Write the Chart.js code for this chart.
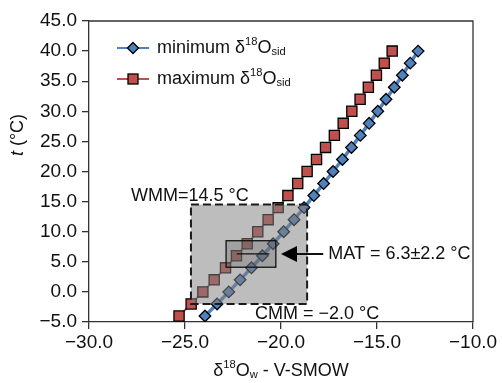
<!DOCTYPE html>
<html>
<head>
<meta charset="utf-8">
<script src="https://cdn.jsdelivr.net/npm/chart.js@4/dist/chart.umd.min.js"></script>
<style>
  html, body { margin: 0; padding: 0; background: #fff; }
</style>
</head>
<body>
<canvas id="chart" width="502" height="383"></canvas>
<script>
const FONT = '"Liberation Sans", Arial, sans-serif';

// temperature steps (°C)
const temps = [-4, -2, 0, 2, 4, 6, 8, 10, 12, 14, 16, 18, 20, 22, 24, 26, 28, 30, 32, 34, 36, 38, 40];
// δ18Ow for each temperature
const minSid = [-23.96, -23.33, -22.72, -22.13, -21.54, -20.97, -20.41, -19.86, -19.32, -18.80, -18.29, -17.78,
  -17.29, -16.80, -16.33, -15.87, -15.41, -14.96, -14.53, -14.10, -13.68, -13.27, -12.86];
const maxSid = [-25.31, -24.68, -24.07, -23.48, -22.89, -22.32, -21.76, -21.21, -20.67, -20.15, -19.64, -19.13,
  -18.64, -18.15, -17.68, -17.22, -16.76, -16.31, -15.88, -15.45, -15.03, -14.62, -14.21];

const seriesNames = ["minimum", "maximum"];
const xTicks = [-30, -25, -20, -15, -10];
const yTicks = [-5, 0, 5, 10, 15, 20, 25, 30, 35, 40, 45];

// annotation values
const wmm = 14.5, cmm = -2.0, mat = 6.3, matErr = 2.2;
const rangeBoxX = [-24.69, -18.64];
const matBoxX = [-22.86, -20.27];
const matLineX = [-22.3, -20.6];
const arrowX = [-17.8, -20.0];

const BLUE = "#4f81bd", RED = "#c0504d";

const toPts = (xs) => xs.map((v, i) => ({ x: v, y: temps[i] }));
const fmt = (v) => (v < 0 ? "\u2212" : "") + Math.abs(v).toFixed(1);

// draw text pieces with super/subscripts, returns width
function richText(ctx, parts, x, y, size, measureOnly) {
  let cx = x;
  parts.forEach((p) => {
    const s = p.sup || p.sub ? size * 0.62 : size;
    ctx.font = (p.italic ? "italic " : "") + s + "px " + FONT;
    const dy = p.sup ? -size * 0.36 : p.sub ? size * 0.22 : 0;
    if (!measureOnly) ctx.fillText(p.t, cx, y + dy);
    cx += ctx.measureText(p.t).width;
  });
  return cx - x;
}

function diamond(ctx, x, y, r) {
  ctx.beginPath();
  ctx.moveTo(x, y - r); ctx.lineTo(x + r, y); ctx.lineTo(x, y + r); ctx.lineTo(x - r, y);
  ctx.closePath();
}

const decorations = {
  id: "decorations",
  afterDatasetsDraw(chart) {
    const { ctx, scales: { x, y } } = chart;
    ctx.save();
    // seasonal range box (WMM - CMM)
    let x0 = x.getPixelForValue(rangeBoxX[0]), x1 = x.getPixelForValue(rangeBoxX[1]);
    let y0 = y.getPixelForValue(wmm), y1 = y.getPixelForValue(cmm);
    ctx.fillStyle = "rgba(128,128,128,0.52)";
    ctx.fillRect(x0, y0, x1 - x0, y1 - y0);
    ctx.setLineDash([8, 4]);
    ctx.lineWidth = 2;
    ctx.strokeStyle = "#1a1a1a";
    ctx.strokeRect(x0, y0, x1 - x0, y1 - y0);
    ctx.setLineDash([]);

    // MAT box
    x0 = x.getPixelForValue(matBoxX[0]); x1 = x.getPixelForValue(matBoxX[1]);
    y0 = y.getPixelForValue(mat + matErr); y1 = y.getPixelForValue(mat - matErr);
    ctx.fillStyle = "rgba(90,90,90,0.28)";
    ctx.fillRect(x0, y0, x1 - x0, y1 - y0);
    ctx.lineWidth = 1.3;
    ctx.strokeStyle = "#111";
    ctx.strokeRect(x0, y0, x1 - x0, y1 - y0);
    const ym = y.getPixelForValue(mat);
    ctx.beginPath();
    ctx.moveTo(x.getPixelForValue(matLineX[0]), ym);
    ctx.lineTo(x.getPixelForValue(matLineX[1]), ym);
    ctx.stroke();

    // arrow
    const tail = x.getPixelForValue(arrowX[0]), tip = x.getPixelForValue(arrowX[1]);
    ctx.lineWidth = 2;
    ctx.beginPath();
    ctx.moveTo(tail, ym); ctx.lineTo(tip + 10, ym); ctx.stroke();
    ctx.fillStyle = "#000";
    ctx.beginPath();
    ctx.moveTo(tip, ym); ctx.lineTo(tip + 16, ym - 8); ctx.lineTo(tip + 16, ym + 8);
    ctx.closePath(); ctx.fill();

    // labels
    ctx.fillStyle = "#111";
    ctx.textBaseline = "middle";
    ctx.textAlign = "left";
    ctx.font = "18px " + FONT;
    ctx.fillText("MAT = " + mat.toFixed(1) + "\u00b1" + matErr.toFixed(1) + " \u00b0C", tail + 5, ym);
    ctx.fillText("WMM=" + wmm.toFixed(1) + " \u00b0C", 131, y.getPixelForValue(wmm) - 9);
    ctx.fillText("CMM = " + fmt(cmm) + " \u00b0C", 255, y.getPixelForValue(cmm) + 10);
    ctx.restore();
  },
  afterDraw(chart) {
    const { ctx, chartArea: a } = chart;
    ctx.save();
    // frame top/right
    ctx.strokeStyle = "#333";
    ctx.lineWidth = 1.3;
    ctx.beginPath();
    ctx.moveTo(a.left, a.top); ctx.lineTo(a.right, a.top); ctx.lineTo(a.right, a.bottom);
    ctx.stroke();

    // legend
    const rows = [
      { y: 48, color: BLUE, name: seriesNames[0], lw: 2, shape: "d" },
      { y: 79, color: RED, name: seriesNames[1], lw: 2, shape: "s" },
    ];
    rows.forEach((r) => {
      ctx.strokeStyle = r.color;
      ctx.lineWidth = r.lw;
      ctx.beginPath(); ctx.moveTo(117, r.y); ctx.lineTo(149, r.y); ctx.stroke();
      ctx.fillStyle = r.color;
      ctx.strokeStyle = "#000";
      ctx.lineWidth = 1.3;
      if (r.shape === "d") { diamond(ctx, 133, r.y, 5.5); ctx.fill(); ctx.stroke(); }
      else { ctx.fillRect(128, r.y - 5, 10, 10); ctx.strokeRect(128, r.y - 5, 10, 10); }
      ctx.fillStyle = "#111";
      ctx.textBaseline = "middle";
      ctx.textAlign = "left";
      richText(ctx, [{ t: r.name + " \u03b4" }, { t: "18", sup: true }, { t: "O" }, { t: "sid", sub: true }], 157, r.y, 18);
    });

    // x title
    const xt = [{ t: "\u03b4" }, { t: "18", sup: true }, { t: "O" }, { t: "w", sub: true }, { t: " - V-SMOW" }];
    ctx.textBaseline = "middle";
    const w = richText(ctx, xt, 0, 0, 18, true);
    richText(ctx, xt, 281 - w / 2, 371, 18);

    // y title
    ctx.translate(18, 135);
    ctx.rotate(-Math.PI / 2);
    const yt = [{ t: "t", italic: true }, { t: " (\u00b0C)" }];
    const wy = richText(ctx, yt, 0, 0, 18, true);
    richText(ctx, yt, -wy / 2, 0, 18);
    ctx.restore();
  },
};

new Chart(document.getElementById("chart"), {
  type: "scatter",
  data: {
    datasets: [
      {
        label: "minimum",
        data: toPts(minSid),
        showLine: true,
        borderColor: BLUE,
        borderWidth: 3.5,
        backgroundColor: BLUE,
        pointStyle: "rectRot",
        pointRadius: 5.8,
        pointBorderColor: "#000",
        pointBorderWidth: 1.3,
        pointBackgroundColor: BLUE,
        order: 1,
      },
      {
        label: "maximum",
        data: toPts(maxSid),
        showLine: true,
        borderColor: RED,
        borderWidth: 2,
        backgroundColor: RED,
        pointStyle: "rect",
        pointRadius: 7.2,
        pointBorderColor: "#000",
        pointBorderWidth: 1.3,
        pointBackgroundColor: RED,
        order: 2,
      },
    ],
  },
  options: {
    responsive: false,
    animation: false,
    devicePixelRatio: 1,
    layout: { padding: { left: 0, top: 21, right: 29, bottom: 0 } },
    plugins: { legend: { display: false }, tooltip: { enabled: false } },
    scales: {
      x: {
        type: "linear",
        min: xTicks[0],
        max: xTicks[xTicks.length - 1],
        afterBuildTicks: (s) => { s.ticks = xTicks.map((v) => ({ value: v })); },
        afterFit: (s) => { s.height = 61; },
        ticks: { callback: fmt, color: "#111", font: { family: FONT, size: 19 }, padding: 2, maxRotation: 0, autoSkip: false },
        grid: { drawOnChartArea: false, tickLength: 7, color: "#333", lineWidth: 1.3 },
        border: { color: "#333", width: 1.3 },
      },
      y: {
        type: "linear",
        min: yTicks[0],
        max: yTicks[yTicks.length - 1],
        afterBuildTicks: (s) => { s.ticks = yTicks.map((v) => ({ value: v })); },
        afterFit: (s) => { s.width = 89; },
        ticks: { callback: fmt, color: "#111", font: { family: FONT, size: 19 }, padding: 5, autoSkip: false },
        grid: { drawOnChartArea: false, tickLength: 7, color: "#333", lineWidth: 1.3 },
        border: { color: "#333", width: 1.3 },
      },
    },
  },
  plugins: [decorations],
});
</script>
</body>
</html>
